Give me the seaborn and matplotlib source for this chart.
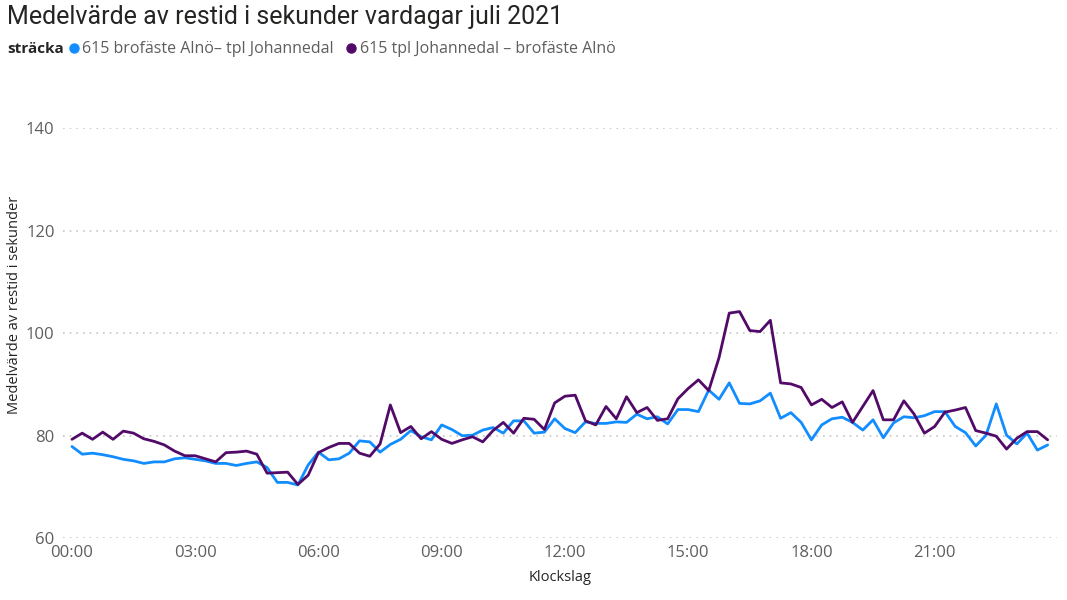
import numpy as np
import pandas as pd
import matplotlib
matplotlib.use("Agg")
import matplotlib.pyplot as plt
from matplotlib.lines import Line2D
import seaborn as sns

title = "Medelvärde av restid i sekunder vardagar juli 2021"
legend_title = "sträcka"
series_names = ["615 brofäste Alnö– tpl Johannedal", "615 tpl Johannedal – brofäste Alnö"]
x_label = "Klockslag"
y_label = "Medelvärde av restid i sekunder"
x_tick_hours = [0, 3, 6, 9, 12, 15, 18, 21]
x_tick_labels = ["00:00", "03:00", "06:00", "09:00", "12:00", "15:00", "18:00", "21:00"]
y_ticks = [60, 80, 100, 120, 140]

# time of day in hours, 15-minute steps
hours = [i * 0.25 for i in range(96)]

alno_to_johannedal = [
    77.9, 76.4, 76.6, 76.3, 75.9, 75.4, 75.1, 74.6, 74.9, 74.9,
    75.5, 75.7, 75.4, 75.1, 74.6, 74.6, 74.2, 74.6, 74.9, 73.8,
    70.9, 70.9, 70.4, 74.3, 76.8, 75.3, 75.5, 76.6, 79.0, 78.8,
    76.8, 78.3, 79.3, 81.0, 79.8, 79.2, 82.1, 81.2, 80.0, 80.1,
    81.1, 81.6, 80.5, 82.9, 82.9, 80.5, 80.7, 83.3, 81.4, 80.6,
    82.7, 82.4, 82.4, 82.7, 82.6, 84.2, 83.3, 83.7, 82.3, 85.1,
    85.1, 84.7, 88.9, 87.1, 90.3, 86.3, 86.2, 86.8, 88.3, 83.4,
    84.5, 82.6, 79.2, 82.1, 83.3, 83.6, 82.6, 81.1, 83.1, 79.6,
    82.5, 83.7, 83.5, 83.9, 84.7, 84.7, 81.8, 80.6, 78.0, 80.1,
    86.2, 80.1, 78.4, 80.5, 77.2, 78.2,
]
johannedal_to_alno = [
    79.3, 80.5, 79.3, 80.7, 79.3, 80.9, 80.5, 79.4, 78.9, 78.2,
    77.0, 76.1, 76.1, 75.5, 74.9, 76.7, 76.8, 77.0, 76.4, 72.7,
    72.8, 72.9, 70.5, 72.3, 76.7, 77.7, 78.5, 78.5, 76.6, 76.0,
    78.4, 86.0, 80.6, 81.8, 79.4, 80.8, 79.3, 78.5, 79.2, 79.8,
    78.8, 81.0, 82.6, 80.5, 83.4, 83.2, 81.2, 86.4, 87.7, 87.9,
    82.9, 82.1, 85.7, 83.3, 87.6, 84.5, 85.5, 83.0, 83.3, 87.2,
    89.2, 90.9, 88.8, 95.2, 103.9, 104.2, 100.5, 100.3, 102.5, 90.3,
    90.1, 89.4, 86.0, 87.1, 85.5, 86.6, 82.6, 85.7, 88.8, 83.1,
    83.1, 86.8, 84.2, 80.5, 81.8, 84.6, 85.0, 85.5, 81.0, 80.5,
    79.9, 77.4, 79.5, 80.8, 80.8, 79.2,
]

colors = {series_names[0]: "#118DFF", series_names[1]: "#520A68"}

df = pd.DataFrame({
    "hour": hours * 2,
    "value": alno_to_johannedal + johannedal_to_alno,
    "sträcka": [series_names[0]] * len(hours) + [series_names[1]] * len(hours),
})

sns.set_theme(style="white")
plt.rcParams["font.family"] = ["Open Sans", "DejaVu Sans"]

fig = plt.figure(figsize=(10.67, 6.0), dpi=100)
ax = fig.add_axes([0.059, 0.1028, 0.9316, 0.684])

sns.lineplot(data=df, x="hour", y="value", hue="sträcka", palette=colors,
             hue_order=series_names, linewidth=2.0, legend=False, ax=ax,
             estimator=None, sort=False)

ax.set_xlim(-0.219, 23.977)
ax.set_ylim(60, 140)
ax.set_yticks(y_ticks)
ax.set_yticklabels([str(v) for v in y_ticks], fontsize=12, color="#605E5C")
ax.set_xticks(x_tick_hours)
ax.set_xticklabels(x_tick_labels, fontsize=12, color="#605E5C")
ax.tick_params(axis="y", length=0, pad=6)
ax.tick_params(axis="x", length=0, pad=5)

ax.grid(axis="y", linestyle=(0, (1, 3)), color="#C8C6C4", linewidth=1.2)
ax.grid(axis="x", visible=False)
for s in ax.spines.values():
    s.set_visible(False)

ax.set_xlabel(x_label, fontsize=10.5, color="#252423", labelpad=6)
ax.set_ylabel(y_label, fontsize=10.5, color="#252423")
ax.yaxis.set_label_coords(-0.041, 0.57)

fig.text(0.0066, 0.992, title, fontsize=18, color="#252423",
         ha="left", va="top", family=["Roboto", "DejaVu Sans"])
fig.text(0.0066, 0.918, legend_title, fontsize=11, color="#252423",
         fontweight="bold", ha="left", va="center")

handles = [Line2D([0], [0], marker="o", linestyle="none", markersize=6.5,
                  markerfacecolor=colors[n], markeredgecolor=colors[n]) for n in series_names]
leg = fig.legend(handles, series_names, loc="center left", bbox_to_anchor=(0.0615, 0.918),
                 ncol=2, frameon=False, fontsize=11.5, handletextpad=0.05,
                 columnspacing=0.55, handlelength=1.0, borderaxespad=0, borderpad=0)
for t in leg.get_texts():
    t.set_color("#605E5C")

fig.savefig("out.png", dpi=100)
